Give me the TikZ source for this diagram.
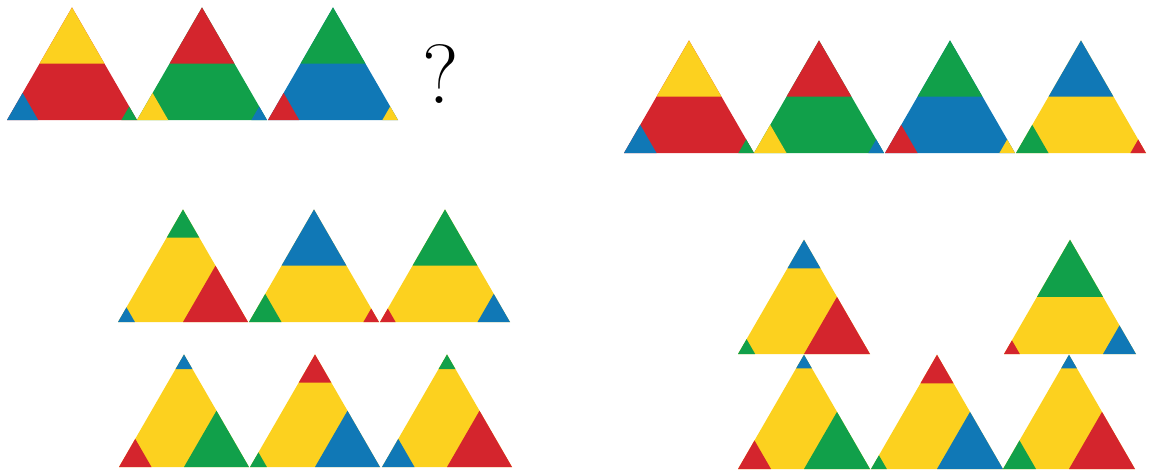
\documentclass[tikz,border=0pt]{standalone}
\usetikzlibrary{calc}

\definecolor{tyellow}{HTML}{FCD11F}
\definecolor{tred}{HTML}{D4252D}
\definecolor{tgreen}{HTML}{11A04A}
\definecolor{tblue}{HTML}{1078B6}

\def\triw{130}
% x, base y, top cut, left cut, right cut, top/left/right/middle colours
\newcommand{\cuttri}[9]{%
  \coordinate (L) at (#1,#2);
  \coordinate (R) at ($(L)+(\triw,0)$);
  \coordinate (T) at ($(L)+(0.5*\triw,-0.866*\triw)$);
  \fill[#9] (L) -- (R) -- (T) -- cycle;
  \fill[#6] (T) -- ($(T)!#3!(L)$) -- ($(T)!#3!(R)$) -- cycle;
  \fill[#7] (L) -- ($(L)!#4!(R)$) -- ($(L)!#4!(T)$) -- cycle;
  \fill[#8] (R) -- ($(R)!#5!(L)$) -- ($(R)!#5!(T)$) -- cycle;
}

\begin{document}
\begin{tikzpicture}[x=1pt,y=-1pt]
  \useasboundingbox (0,0) rectangle (1149,469);
  % question row
  \cuttri{7}{120}{0.5}{0.24}{0.12}{tyellow}{tblue}{tgreen}{tred}
  \cuttri{137}{120}{0.5}{0.24}{0.12}{tred}{tyellow}{tblue}{tgreen}
  \cuttri{268}{120}{0.5}{0.24}{0.12}{tgreen}{tred}{tyellow}{tblue}
  \node[font=\fontsize{84}{84}\selectfont] (qmark) at (441,74) {?};
  % answer row
  \cuttri{624}{153}{0.5}{0.25}{0.12}{tyellow}{tblue}{tgreen}{tred}
  \cuttri{754}{153}{0.5}{0.25}{0.12}{tred}{tyellow}{tblue}{tgreen}
  \cuttri{885}{153}{0.5}{0.25}{0.12}{tgreen}{tred}{tyellow}{tblue}
  \cuttri{1016}{153}{0.5}{0.25}{0.12}{tblue}{tgreen}{tred}{tyellow}
  % left options
  \cuttri{118}{322}{0.25}{0.13}{0.5}{tgreen}{tblue}{tred}{tyellow}
  \cuttri{249}{322}{0.5}{0.25}{0.12}{tblue}{tgreen}{tred}{tyellow}
  \cuttri{380}{322}{0.5}{0.12}{0.25}{tgreen}{tred}{tblue}{tyellow}
  \cuttri{119}{467}{0.13}{0.25}{0.5}{tblue}{tred}{tgreen}{tyellow}
  \cuttri{250}{467}{0.25}{0.13}{0.5}{tred}{tgreen}{tblue}{tyellow}
  \cuttri{382}{467}{0.13}{0.25}{0.5}{tgreen}{tblue}{tred}{tyellow}
  % right options
  \def\triw{132}
  \cuttri{738}{354}{0.25}{0.13}{0.5}{tblue}{tgreen}{tred}{tyellow}
  \cuttri{1004}{354}{0.5}{0.12}{0.25}{tgreen}{tred}{tblue}{tyellow}
  \cuttri{738}{469}{0.12}{0.25}{0.5}{tblue}{tred}{tgreen}{tyellow}
  \cuttri{871}{469}{0.25}{0.12}{0.5}{tred}{tgreen}{tblue}{tyellow}
  \cuttri{1003}{469}{0.12}{0.25}{0.5}{tblue}{tgreen}{tred}{tyellow}
\end{tikzpicture}
\end{document}
